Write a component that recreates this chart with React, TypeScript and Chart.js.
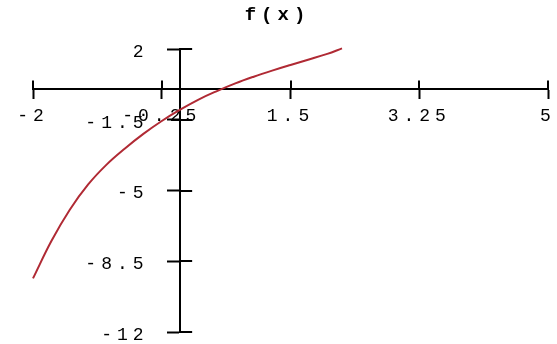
import React, { useEffect, useRef } from "react";
import { Chart, registerables } from "chart.js";

Chart.register(...registerables);

// f(x) sampled along the curve
const xValues = [-2, -1.75, -1.5, -1.25, -1, -0.75, -0.5, -0.25, 0, 0.25, 0.5, 0.75, 1, 1.25, 1.5, 1.75, 2, 2.2];
const yValues = [-9.35, -7.5, -5.95, -4.7, -3.72, -2.92, -2.2, -1.56, -1.0, -0.5, -0.08, 0.3, 0.63, 0.93, 1.21, 1.48, 1.76, 2.03];

const xTickValues = [-2, -0.25, 1.5, 3.25, 5];
const yTickValues = [-12, -8.5, -5, -1.5, 2];

const titleText = "f(x)";

const FONT = "'Liberation Mono', 'DejaVu Sans Mono', monospace";
const LETTER_SPACING = "5px";

// Canvas letter spacing for the wide, airy labels
const spacingPlugin = {
  id: "spacing",
  beforeUpdate(chart: any) {
    chart.ctx.letterSpacing = LETTER_SPACING;
  },
  beforeDraw(chart: any) {
    chart.ctx.letterSpacing = LETTER_SPACING;
  },
};

// Extend each tick mark to the other side of its axis line
const crossTicksPlugin = {
  id: "crossTicks",
  afterDraw(chart: any) {
    const { ctx, scales } = chart;
    const xs = scales.x;
    const ys = scales.y;
    const y0 = ys.getPixelForValue(0);
    const x0 = xs.getPixelForValue(0);
    ctx.save();
    ctx.strokeStyle = "#000";
    ctx.lineWidth = 2;
    ctx.beginPath();
    xs.ticks.forEach((t: any) => {
      const px = Math.round(xs.getPixelForValue(t.value));
      ctx.moveTo(px, y0 - 9);
      ctx.lineTo(px, y0);
    });
    ys.ticks.forEach((t: any) => {
      const py = Math.round(ys.getPixelForValue(t.value));
      ctx.moveTo(x0, py);
      ctx.lineTo(x0 + 12, py);
    });
    ctx.stroke();
    ctx.restore();
  },
};

export default function App() {
  const canvasRef = useRef<HTMLCanvasElement | null>(null);

  useEffect(() => {
    const canvas = canvasRef.current;
    if (!canvas) return;
    const points = xValues.map((x, i) => ({ x, y: yValues[i] }));

    const chart = new Chart(canvas, {
      type: "scatter",
      data: {
        datasets: [
          {
            data: points,
            xAxisID: "x",
            yAxisID: "y",
            showLine: true,
            clip: false,
            borderColor: "#b02a34",
            borderWidth: 2,
            pointRadius: 0,
            tension: 0.4,
          },
        ],
      },
      plugins: [spacingPlugin, crossTicksPlugin],
      options: {
        responsive: false,
        animation: false,
        events: [],
        layout: { padding: { left: 7, right: 9, top: 0, bottom: 12 } },
        plugins: {
          legend: { display: false },
          tooltip: { enabled: false },
          title: {
            display: true,
            text: titleText,
            color: "#000",
            font: { family: FONT, size: 19, weight: "bold" },
            padding: { top: 4, bottom: 22.2 },
          },
        },
        scales: {
          // empty margin strip on the left of the plot
          yPad: {
            position: "left",
            display: true,
            min: -12,
            max: 2,
            afterFit(scale: any) {
              scale.width = 26;
              scale.paddingTop = 0;
              scale.paddingBottom = 0;
            },
            grid: { display: false },
            border: { display: false },
            ticks: { display: false },
          },
          x: {
            type: "linear",
            min: -2,
            max: 5,
            position: { y: 0 },
            afterFit(scale: any) {
              scale.height = 0;
              scale.paddingLeft = 0;
              scale.paddingRight = 0;
            },
            afterBuildTicks(scale: any) {
              scale.ticks = xTickValues.map((v) => ({ value: v }));
            },
            border: { display: true, color: "#000", width: 2 },
            grid: {
              drawOnChartArea: false,
              drawTicks: true,
              tickLength: 9,
              tickWidth: 2,
              tickColor: "#000",
            },
            ticks: {
              color: "#000",
              padding: 7,
              maxRotation: 0,
              autoSkip: false,
              font: { family: FONT, size: 18 },
              callback: (v: any) => String(v),
            },
          },
          y: {
            type: "linear",
            min: -12,
            max: 2,
            position: { x: 0 },
            afterFit(scale: any) {
              scale.width = 0;
              scale.paddingTop = 0;
              scale.paddingBottom = 0;
            },
            afterBuildTicks(scale: any) {
              scale.ticks = yTickValues.map((v) => ({ value: v }));
            },
            border: { display: true, color: "#000", width: 2 },
            grid: {
              drawOnChartArea: false,
              drawTicks: true,
              tickLength: 12,
              tickWidth: 2,
              tickColor: "#000",
            },
            ticks: {
              color: "#000",
              labelOffset: 3,
              autoSkip: false,
              font: { family: FONT, size: 18 },
              // trailing gap keeps labels clear of the tick marks
              callback: (v: any) => String(v) + "  ",
            },
          },
        },
      },
    } as any);

    return () => chart.destroy();
  }, []);

  return (
    <canvas
      ref={canvasRef}
      width={557}
      height={344}
      style={{ position: "absolute", left: 0, top: 0, background: "#fff" }}
    />
  );
}
